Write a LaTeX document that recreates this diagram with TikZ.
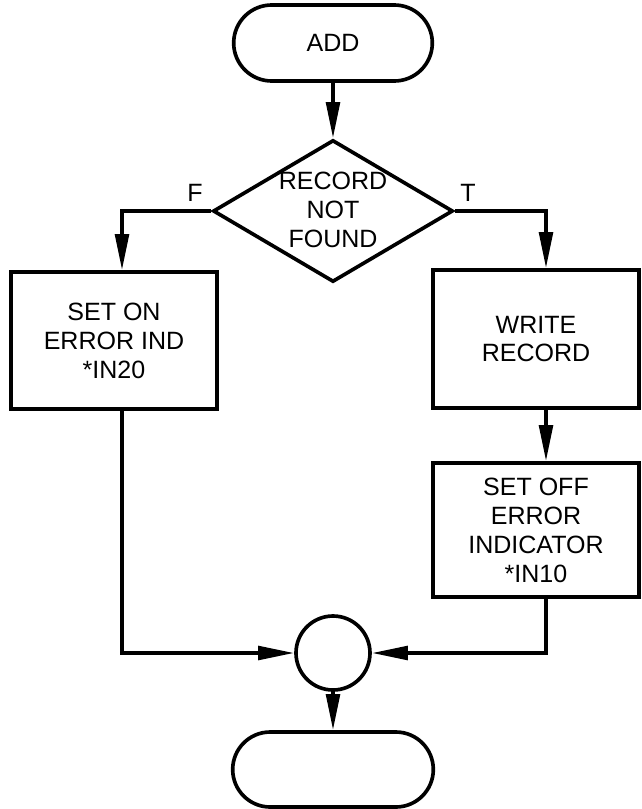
\documentclass[tikz,border=0pt]{standalone}
\usepackage{fontspec}
\setmainfont{Liberation Sans}
\usetikzlibrary{shapes.geometric,shapes.misc,arrows.meta}
\tikzset{
  term/.style={draw, rounded rectangle, minimum width=5.2cm, minimum height=1.9cm},
  proc/.style={draw, rectangle, minimum width=5.15cm, align=center},
  decision/.style={draw, diamond, minimum width=6cm, minimum height=3.55cm, inner sep=0pt},
  joint/.style={draw, circle, minimum size=1.85cm, inner sep=0pt},
  flow/.style={-{Triangle[length=0.9cm,width=0.34cm]}},
}
\begin{document}
\begin{tikzpicture}[line width=2.6pt, font=\fontsize{17.8}{20.6}\selectfont]
\useasboundingbox (0,0) rectangle (16.05,-20.225);
\node[term] (add) at (8.325,-1.075) {ADD};
\node[decision] (dec) at (8.325,-5.275) {};
\node[align=center] (dectxt) at (8.325,-5.25) {RECORD\\NOT\\FOUND};
\node[proc, minimum height=3.425cm] (lbox) at (2.85,-8.5125) {SET ON\\ERROR IND\\*IN20};
\node[proc, minimum height=3.45cm] (wbox) at (13.4,-8.475) {WRITE\\RECORD};
\node[proc, minimum height=3.35cm] (obox) at (13.4,-13.25) {SET OFF\\ERROR\\INDICATOR\\*IN10};
\node[joint] (join) at (8.325,-16.325) {};
\node[term, minimum width=5.25cm, minimum height=1.875cm] (stop) at (8.325,-19.2375) {};
\coordinate (lcol) at (3.05,0);
\coordinate (rcol) at (13.65,0);
\node (f) at (4.875,-4.825) {F};
\node (t) at (11.7,-4.825) {T};
\draw[flow] (add) -- (dec.north);
\draw[flow] (dec.west) -| (lcol |- lbox.north);
\draw[flow] (dec.east) -| (rcol |- wbox.north);
\draw[flow] (rcol |- wbox.south) -- (rcol |- obox.north);
\draw[flow] (lcol |- lbox.south) |- (join.west);
\draw[flow] (rcol |- obox.south) |- (join.east);
\draw[flow] (join) -- (stop);
\end{tikzpicture}
\end{document}
